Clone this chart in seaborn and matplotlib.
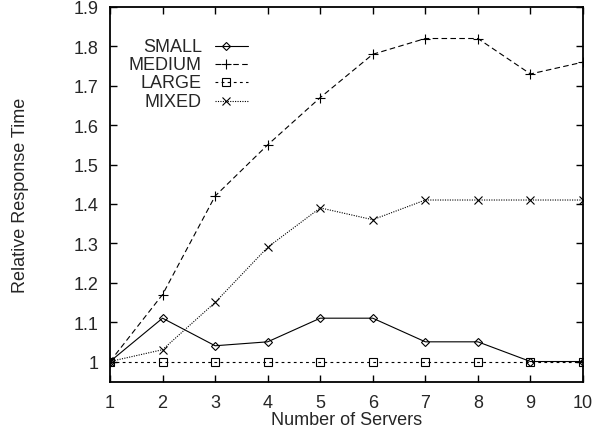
import matplotlib
matplotlib.use("Agg")
import matplotlib.pyplot as plt
import seaborn as sns
import pandas as pd

servers = [1, 2, 3, 4, 5, 6, 7, 8, 9, 10]
small = [1.0, 1.11, 1.04, 1.05, 1.11, 1.11, 1.05, 1.05, 1.0, 1.0]
medium = [1.0, 1.17, 1.42, 1.55, 1.67, 1.78, 1.82, 1.82, 1.73, 1.76]
large = [1.0, 1.0, 1.0, 1.0, 1.0, 1.0, 1.0, 1.0, 1.0, 1.0]
mixed = [1.0, 1.03, 1.15, 1.29, 1.39, 1.36, 1.41, 1.41, 1.41, 1.41]
series_names = ["SMALL", "MEDIUM", "LARGE", "MIXED"]
y_ticks = [1.0, 1.1, 1.2, 1.3, 1.4, 1.5, 1.6, 1.7, 1.8, 1.9]
y_tick_labels = ["1", "1.1", "1.2", "1.3", "1.4", "1.5", "1.6", "1.7", "1.8", "1.9"]

sns.set_style("ticks")
plt.rcParams['font.family'] = ['Liberation Sans', 'DejaVu Sans']

FS = 13
fig = plt.figure(figsize=(5.94, 4.31), dpi=100)
ax = fig.add_axes([110 / 594, 48 / 431, 473 / 594, 375 / 431])

styles = {
    "SMALL": dict(marker="D", ms=4.2, ls="-", dashes=None),
    "MEDIUM": dict(marker="+", ms=6.5, ls="--", dashes=(5, 3)),
    "LARGE": dict(marker="s", ms=5.8, ls="--", dashes=(2.5, 3)),
    "MIXED": dict(marker="x", ms=6.0, ls=":", dashes=(1, 1.2)),
}
values = {"SMALL": small, "MEDIUM": medium, "LARGE": large, "MIXED": mixed}

for name in series_names:
    st = styles[name]
    df = pd.DataFrame({"x": servers, "y": values[name]})
    sns.lineplot(data=df, x="x", y="y", ax=ax, color="black", lw=0.8,
                 marker=st["marker"], markersize=st["ms"], markerfacecolor="none",
                 markeredgecolor="black", markeredgewidth=0.8, legend=False)
    line = ax.lines[-1]
    if st["dashes"] is not None:
        line.set_dashes(st["dashes"])

ax.set_xlim(1, 10)
ax.set_ylim(0.948, 1.9)
ax.set_xticks(servers)
ax.set_xticklabels([str(s) for s in servers], fontsize=FS)
ax.set_yticks(y_ticks)
ax.set_yticklabels(y_tick_labels, fontsize=FS)
ax.tick_params(direction="in", length=5, width=1, top=True, right=True,
               pad=8.5, color="black")
ax.set_xlabel("Number of Servers", fontsize=FS, labelpad=0)
ax.set_ylabel("Relative Response Time", fontsize=FS, labelpad=32)
for sp in ax.spines.values():
    sp.set_linewidth(1.3)
    sp.set_color("black")
    sp.set_visible(True)

# legend (gnuplot style: label right-aligned, sample to the right)
leg_y = [0.896, 0.848, 0.800, 0.749]
for name, yy in zip(series_names, leg_y):
    st = styles[name]
    ax.text(0.1945, yy, name, transform=ax.transAxes, ha="right", va="center",
            fontsize=FS)
    l, = ax.plot([0.222, 0.292], [yy, yy], transform=ax.transAxes,
                 color="black", lw=0.8, ls=st["ls"], clip_on=False)
    if st["dashes"] is not None:
        l.set_dashes(st["dashes"])
    ax.plot([0.245], [yy], transform=ax.transAxes, marker=st["marker"],
            ms=st["ms"], mfc="none", mec="black", mew=0.8, clip_on=False)

fig.savefig("out.png", dpi=100)
